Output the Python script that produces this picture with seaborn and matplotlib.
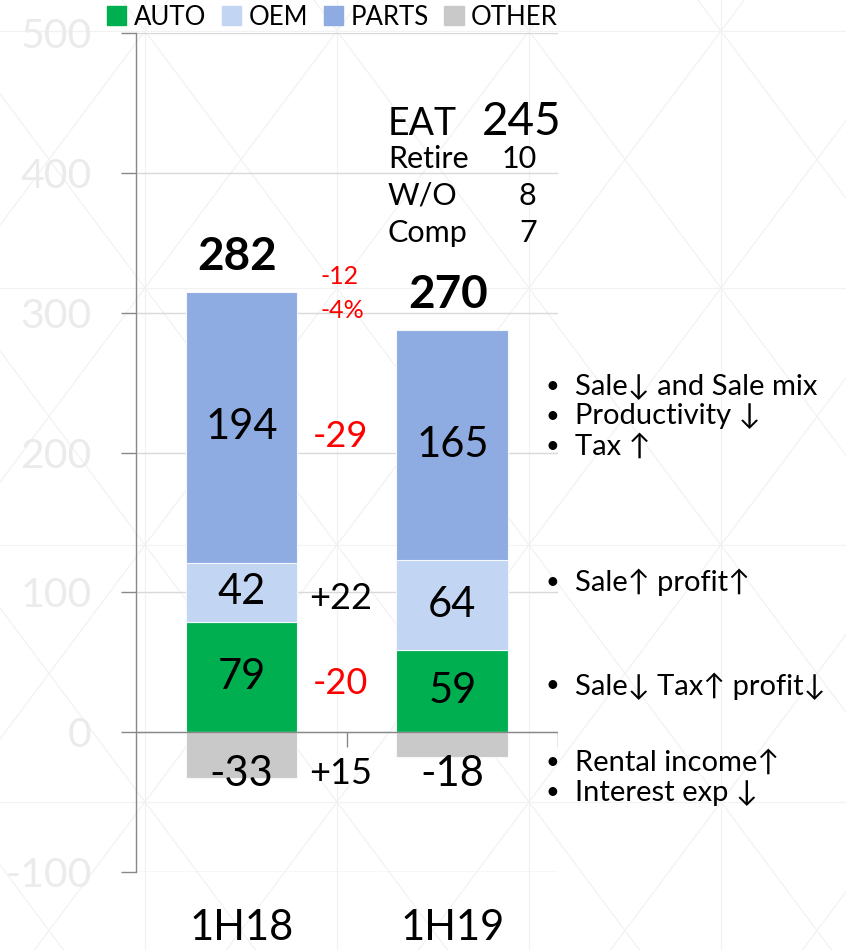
import numpy as np
import pandas as pd
import seaborn as sns
import matplotlib.pyplot as plt
from matplotlib.patches import Patch

# data
periods = ["1H18", "1H19"]
segments = ["AUTO", "OEM", "PARTS", "OTHER"]
auto = [79, 59]
oem = [42, 64]
parts = [194, 165]
other = [-33, -18]

eat_total = 245
eat_items = ["Retire", "W/O", "Comp"]
eat_values = [10, 8, 7]

notes_parts = ["Sale\u2193 and Sale mix", "Productivity \u2193", "Tax \u2191"]
notes_oem = ["Sale\u2191 profit\u2191"]
notes_auto = ["Sale\u2193 Tax\u2191 profit\u2193"]
notes_other = ["Rental income\u2191", "Interest exp \u2193"]

colors = {"AUTO": "#00B050", "OEM": "#C2D5F2", "PARTS": "#8EACE2", "OTHER": "#C9C9C9"}

df = pd.DataFrame({"period": periods, "AUTO": auto, "OEM": oem, "PARTS": parts, "OTHER": other})
bottoms = {
  "AUTO": np.zeros(2),
  "OEM": df["AUTO"].values,
  "PARTS": (df["AUTO"] + df["OEM"]).values,
  "OTHER": np.zeros(2),
}
totals = df[segments].sum(axis=1).values
tops = (df["AUTO"] + df["OEM"] + df["PARTS"]).values

sns.set_style("white")
plt.rcParams["font.family"] = ["Lato", "DejaVu Sans"]
plt.rcParams["text.color"] = "black"
plt.rcParams["axes.unicode_minus"] = False

fig = plt.figure(figsize=(8.46, 9.51), dpi=100)

# faint slide background pattern
bg = fig.add_axes([0, 0, 1, 1], zorder=0)
bg.set_xlim(0, 846)
bg.set_ylim(951, 0)
bg.axis("off")
pat = dict(color="#f2f2f2", lw=0.9)
for k in range(-1, 6):
  bg.axvline(145 + 192 * k, **pat)
for m in range(4):
  bg.axhline(31 + 257 * m, **pat)
yy = np.array([0, 951])
for k in range(-6, 9):
  bg.plot(145 + 192 * k + (192 / 257) * (yy - 31), yy, **pat)
  bg.plot(145 + 192 * k - (192 / 257) * (yy - 31), yy, **pat)

ax = fig.add_axes([0.1608, 0.0834, 0.4985, 0.8814], zorder=1)
ax.set_facecolor("none")

for seg in segments:
  sns.barplot(
    data      = df,
    x         = "period",
    y         = seg,
    bottom    = bottoms[seg],
    color     = colors[seg],
    saturation= 1,
    width     = 0.53,
    errorbar  = None,
    edgecolor = "#f4f7fc",
    linewidth = 0.8,
    ax        = ax,
  )

ax.set_xlim(-0.5, 1.5)
ax.set_ylim(-100, 500)
ax.set_yticks(range(-100, 501, 100))
ax.set_xlabel("")
ax.set_ylabel("")
ax.yaxis.grid(True, color="#d9d9d9", lw=1)
ax.set_axisbelow(True)
for s in ["top", "right", "bottom"]:
  ax.spines[s].set_visible(False)
ax.spines["left"].set_color("#888888")
ax.spines["left"].set_linewidth(1)
ax.tick_params(axis="y", left=True, length=10.8, width=1, color="#888888",
               labelcolor="#ebebeb", labelsize=29.5, pad=21)
ax.tick_params(axis="x", length=0, labelsize=30, pad=27, labelcolor="black")

# zero axis line with category ticks
ax.axhline(0, color="#888888", lw=1, zorder=3)
ax.vlines([0.5, 1.5], -11, 0, color="#888888", lw=1, zorder=3)

# segment labels
label_y = {}
for seg in segments:
  vals = df[seg].values
  if seg == "OTHER":
    ys = np.array([-30.0, -30.0])
  else:
    ys = bottoms[seg] + vals / 2
  label_y[seg] = ys
  for i, v in enumerate(vals):
    ax.text(i, ys[i], str(v), ha="center", va="center", fontsize=30, zorder=4)

# totals
for i, t in enumerate(totals):
  ax.text(i - 0.02, tops[i] + 25, str(t), ha="center", va="center", fontsize=33,
          fontweight="bold", zorder=4)

# change between periods
for seg in segments:
  d = df[seg].values[1] - df[seg].values[0]
  ax.text(0.47, label_y[seg].mean(), f"{d:+d}", ha="center", va="center",
          fontsize=26, color="red" if d < 0 else "black", zorder=4)

tot_d = totals[1] - totals[0]
pct = round(100 * tot_d / totals[0])
ax.text(0.467, 326, f"{tot_d:+d}", ha="center", va="center", fontsize=18, color="red")
ax.text(0.48, 302, f"{pct:+d}%", ha="center", va="center", fontsize=18, color="red")

# EAT box
ax.text(0.694, 427, "EAT", ha="left", va="baseline", fontsize=27, clip_on=False)
ax.text(1.14, 427, str(eat_total), ha="left", va="baseline", fontsize=33, clip_on=False)
for j, (name, v) in enumerate(zip(eat_items, eat_values)):
  yb = 404 - j * 26.5
  ax.text(0.694, yb, name, ha="left", va="baseline", fontsize=22)
  ax.text(1.40, yb, str(v), ha="right", va="baseline", fontsize=22)

# bullet notes on the right
groups = [(notes_parts, 226), (notes_oem, 107), (notes_auto, 33), (notes_other, -32.6)]
for lines, yc in groups:
  n = len(lines)
  for j, line in enumerate(lines):
    y = yc + (n - 1) / 2 * 21.5 - j * 21.5
    ax.text(1.476, y, "\u2022", ha="center", va="center", fontsize=17, clip_on=False)
    ax.text(1.58, y, line, ha="left", va="center", fontsize=21, clip_on=False)

handles = [Patch(color=colors[s]) for s in segments]
fig.legend(handles, segments, ncol=4, loc="center", bbox_to_anchor=(0.393, 0.982),
           frameon=False, fontsize=18.5, handlelength=0.75, handleheight=0.75,
           handletextpad=0.3, columnspacing=0.6, borderaxespad=0, labelcolor="black")

fig.savefig("out.png", dpi=100)
